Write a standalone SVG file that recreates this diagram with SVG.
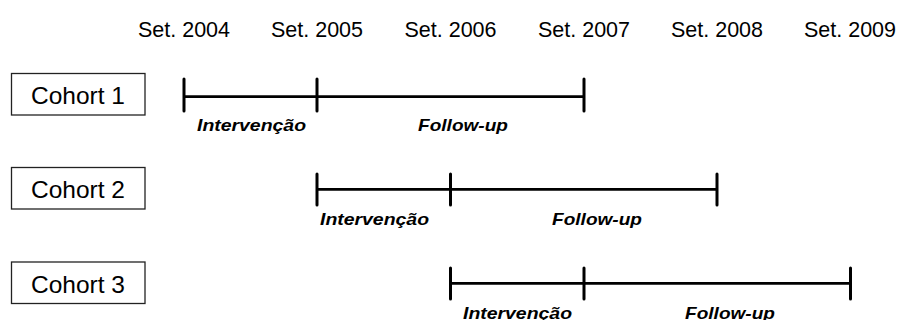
<svg xmlns="http://www.w3.org/2000/svg" width="898" height="320" viewBox="0 0 898 320">
<style>
.yr{font-family:"Liberation Sans",Arial,sans-serif;font-size:21.5px;fill:#000;text-anchor:middle}
.box{fill:#fff;stroke:#222;stroke-width:1.3}
.lbl{font-family:"Liberation Sans",Arial,sans-serif;font-size:24.5px;fill:#000;text-anchor:middle}
.ph{font-family:"Liberation Sans",Arial,sans-serif;font-size:17px;font-weight:bold;font-style:italic;fill:#000}
.bar{stroke:#000;stroke-width:2.8;fill:none}
.tick{stroke:#000;stroke-width:3;stroke-linecap:round;fill:none}
</style>
<rect width="898" height="320" fill="#fff"/>
<g id="years">
<text class="yr" x="184" y="37">Set. 2004</text>
<text class="yr" x="317" y="37">Set. 2005</text>
<text class="yr" x="450.5" y="37">Set. 2006</text>
<text class="yr" x="584" y="37">Set. 2007</text>
<text class="yr" x="717" y="37">Set. 2008</text>
<text class="yr" x="850" y="37">Set. 2009</text>
</g>
<g id="cohort1">
<rect class="box" x="11.5" y="73.5" width="133.5" height="41.5"/>
<text class="lbl" x="78" y="104">Cohort 1</text>
</g>
<g id="cohort2">
<rect class="box" x="11.5" y="167.5" width="133.5" height="41.5"/>
<text class="lbl" x="78" y="198">Cohort 2</text>
</g>
<g id="cohort3">
<rect class="box" x="11.5" y="262" width="133.5" height="41.5"/>
<text class="lbl" x="78" y="292.5">Cohort 3</text>
</g>
<g id="connectors">
<line class="bar" x1="184" y1="96.7" x2="584" y2="96.7"/>
<line class="tick" x1="184" y1="79" x2="184" y2="111"/>
<line class="tick" x1="317" y1="79" x2="317" y2="111"/>
<line class="tick" x1="584" y1="79" x2="584" y2="111"/>
<line class="bar" x1="317" y1="189.3" x2="717" y2="189.3"/>
<line class="tick" x1="317" y1="174" x2="317" y2="205"/>
<line class="tick" x1="450.5" y1="174" x2="450.5" y2="205"/>
<line class="tick" x1="717" y1="174" x2="717" y2="205"/>
<line class="bar" x1="450.5" y1="283.3" x2="850.5" y2="283.3"/>
<line class="tick" x1="450.5" y1="268" x2="450.5" y2="299"/>
<line class="tick" x1="584" y1="268" x2="584" y2="299"/>
<line class="tick" x1="850.5" y1="268" x2="850.5" y2="299"/>
</g>
<g id="phases">
<text class="ph" x="197" y="131" textLength="109" lengthAdjust="spacingAndGlyphs">Intervenção</text>
<text class="ph" x="418" y="131" textLength="90" lengthAdjust="spacingAndGlyphs">Follow-up</text>
<text class="ph" x="320" y="225" textLength="109" lengthAdjust="spacingAndGlyphs">Intervenção</text>
<text class="ph" x="552" y="225" textLength="90" lengthAdjust="spacingAndGlyphs">Follow-up</text>
<text class="ph" x="463" y="319" textLength="109" lengthAdjust="spacingAndGlyphs">Intervenção</text>
<text class="ph" x="685" y="319" textLength="90" lengthAdjust="spacingAndGlyphs">Follow-up</text>
</g>
</svg>
